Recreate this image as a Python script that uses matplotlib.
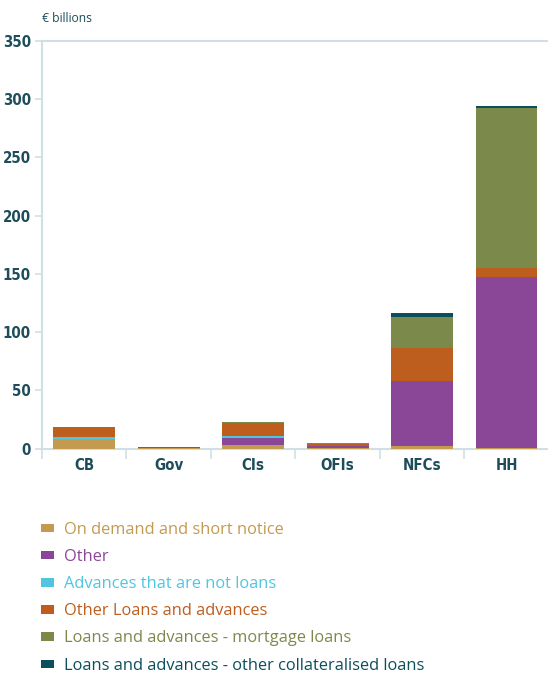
import numpy as np
import matplotlib.pyplot as plt

sectors = ['CB', 'Gov', 'CIs', 'OFIs', 'NFCs', 'HH']
series_names = ['On demand and short notice', 'Other', 'Advances that are not loans',
                'Other Loans and advances', 'Loans and advances - mortgage loans',
                'Loans and advances - other collateralised loans']
on_demand = [8.0, 0.3, 3.2, 0.9, 2.6, 0.9]
other = [0.0, 1.0, 6.2, 1.7, 55.4, 146.4]
advances_not_loans = [1.8, 0.0, 1.7, 0.0, 0.0, 0.0]
other_loans = [9.2, 0.2, 11.2, 1.7, 28.6, 7.7]
mortgage = [0.0, 0.3, 0.9, 0.6, 26.4, 137.2]
collateralised = [0.0, 0.0, 0.0, 0.0, 3.4, 1.7]
colors = ['#C49A50', '#8B4797', '#50C5DF', '#BD5E1E', '#7B8A4A', '#0B4F5C']

txt = '#1d4d5b'
axcol = '#d0dfe4'

fig = plt.figure(figsize=(5.48, 6.75), dpi=100)
ax = fig.add_axes([0.0766, 0.3353, 0.925, 0.6040])

x = np.arange(len(sectors))
bottom = np.zeros(len(sectors))
bars = []
for vals, name, c in zip([on_demand, other, advances_not_loans, other_loans, mortgage, collateralised],
                         series_names, colors):
    b = ax.bar(x, vals, width=0.73, bottom=bottom, color=c, label=name, zorder=3)
    bars.append(b)
    bottom += np.array(vals)

ax.set_xlim(-0.5, 5.5)
ax.set_ylim(0, 350)
ax.set_yticks(np.arange(0, 351, 50))
ax.set_xticks(x)
ax.set_xticklabels(sectors)
ax.set_xticks(np.arange(-0.5, 5.6, 1), minor=True)

for s in ['left', 'bottom', 'top']:
    ax.spines[s].set_color(axcol)
    ax.spines[s].set_linewidth(1.5)
ax.spines['right'].set_visible(False)
ax.tick_params(axis='y', length=5, width=1.2, color=axcol, pad=3)
ax.tick_params(axis='x', which='major', length=0, pad=7)
ax.tick_params(axis='x', which='minor', length=7, width=1.2, color=axcol)
for lab in ax.get_yticklabels() + ax.get_xticklabels():
    lab.set_family('DejaVu Sans')
    lab.set_stretch('condensed')
    lab.set_fontweight('bold')
    lab.set_fontsize(10.8)
    lab.set_color(txt)

fig.text(0.077, 0.972, '€ billions', fontsize=8.7, color=txt, family=['Open Sans', 'DejaVu Sans'],
         ha='left', va='center')

leg = fig.legend(handles=bars, labels=series_names, loc='upper left',
                 bbox_to_anchor=(0.062, 0.2365), frameon=False,
                 prop={'family': ['Open Sans', 'DejaVu Sans'], 'size': 11.8},
                 labelcolor=colors, handlelength=0.8, handleheight=0.42,
                 handletextpad=0.62, labelspacing=0.68, borderaxespad=0)

fig.savefig('out.png', dpi=100)
